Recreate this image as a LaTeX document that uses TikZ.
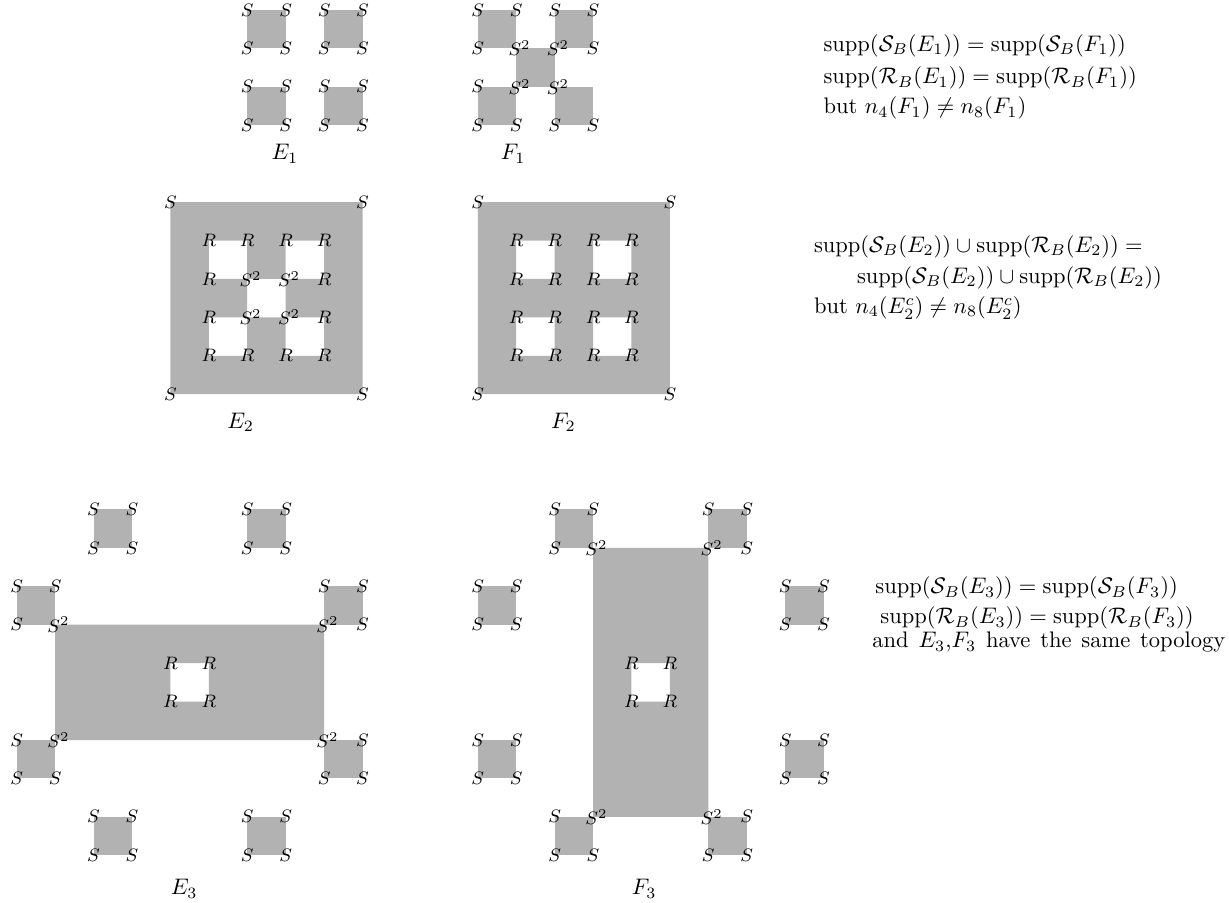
\documentclass[tikz,border=0pt]{standalone}
\usepackage{amsmath}
\begin{document}
\begin{tikzpicture}[x=0.6cm,y=-0.6cm,
  region/.style={fill=black!30},
  lab/.style={font=\footnotesize, inner sep=0pt},
  labsq/.style={lab, xshift=1.5pt},
  figcap/.style={anchor=base},
  txt/.style={anchor=base west, inner sep=0pt}]
\useasboundingbox (-0.435,-0.26) rectangle (31.553,23.217);

% ---------------- E1 ----------------
\foreach \x/\y in {6/0,8/0,6/2,8/2} \fill[region] (\x,\y) rectangle ++(1,1);
\foreach \x in {6,7,8,9} \foreach \y in {0,1,2,3} \node[lab] (ea-\x-\y) at (\x,\y) {$S$};
\node[figcap] (E1) at (6.98,3.9) {$E_1$};

% ---------------- F1 ----------------
\foreach \x/\y in {12/0,14/0,13/1,12/2,14/2} \fill[region] (\x,\y) rectangle ++(1,1);
\foreach \x/\y in {12/0,13/0,14/0,15/0,12/1,15/1,12/2,12/3,13/3,14/3,15/3}
  \node[lab] (fa-\x-\y) at (\x,\y) {$S$};
\foreach \x/\y in {13/1,14/1,13/2,14/2}
  \node[labsq] (fb-\x-\y) at (\x,\y) {$S^2$};
\node[figcap] (F1) at (12.92,3.9) {$F_1$};

% ---------------- E2 ----------------
\fill[region,even odd rule] (4,5) rectangle (9,10)
  (5,6) rectangle ++(1,1) (7,6) rectangle ++(1,1) (6,7) rectangle ++(1,1)
  (5,8) rectangle ++(1,1) (7,8) rectangle ++(1,1);
\foreach \x/\y in {4/5,9/5,4/10,9/10} \node[lab] (ec-\x-\y) at (\x,\y) {$S$};
\foreach \x/\y in {5/6,6/6,7/6,8/6,5/7,8/7,5/8,8/8,5/9,6/9,7/9,8/9}
  \node[lab] (ed-\x-\y) at (\x,\y) {$R$};
\foreach \x/\y in {6/7,7/7,6/8,7/8}
  \node[labsq] (ee-\x-\y) at (\x,\y) {$S^2$};
\node[figcap] (E2) at (5.83,10.88) {$E_2$};

% ---------------- F2 ----------------
\fill[region,even odd rule] (12,5) rectangle (17,10)
  (13,6) rectangle ++(1,1) (15,6) rectangle ++(1,1)
  (13,8) rectangle ++(1,1) (15,8) rectangle ++(1,1);
\foreach \x/\y in {12/5,17/5,12/10,17/10} \node[lab] (fc-\x-\y) at (\x,\y) {$S$};
\foreach \x in {13,14,15,16} \foreach \y in {6,7,8,9}
  \node[lab] (fd-\x-\y) at (\x,\y) {$R$};
\node[figcap] (F2) at (14.23,10.88) {$F_2$};

% ---------------- E3 ----------------
\foreach \x/\y in {2/13,6/13,0/15,8/15,0/19,8/19,2/21,6/21} \fill[region] (\x,\y) rectangle ++(1,1);
\fill[region,even odd rule] (1,16) rectangle (8,19) (4,17) rectangle (5,18);
\foreach \x/\y in {2/13,3/13,2/14,3/14, 6/13,7/13,6/14,7/14,
                   0/15,1/15,0/16, 8/15,9/15,9/16,
                   0/19,0/20,1/20, 9/19,8/20,9/20,
                   2/21,3/21,2/22,3/22, 6/21,7/21,6/22,7/22}
  \node[lab] (eg-\x-\y) at (\x,\y) {$S$};
\foreach \x/\y in {1/16,8/16,1/19,8/19}
  \node[labsq] (eh-\x-\y) at (\x,\y) {$S^2$};
\foreach \x/\y in {4/17,5/17,4/18,5/18}
  \node[lab] (ei-\x-\y) at (\x,\y) {$R$};
\node[figcap] (E3) at (4.36,23.03) {$E_3$};

% ---------------- F3 ----------------
\foreach \x/\y in {14/13,18/13,12/15,20/15,12/19,20/19,14/21,18/21} \fill[region] (\x,\y) rectangle ++(1,1);
\fill[region,even odd rule] (15,14) rectangle (18,21) (16,17) rectangle (17,18);
\foreach \x/\y in {14/13,15/13,14/14, 18/13,19/13,19/14,
                   12/15,13/15,12/16,13/16, 20/15,21/15,20/16,21/16,
                   12/19,13/19,12/20,13/20, 20/19,21/19,20/20,21/20,
                   14/21,14/22,15/22, 19/21,18/22,19/22}
  \node[lab] (fg-\x-\y) at (\x,\y) {$S$};
\foreach \x/\y in {15/14,18/14,15/21,18/21}
  \node[labsq] (fh-\x-\y) at (\x,\y) {$S^2$};
\foreach \x/\y in {16/17,17/17,16/18,17/18}
  \node[lab] (fi-\x-\y) at (\x,\y) {$R$};
\node[figcap] (F3) at (16.33,23.03) {$F_3$};

% ---------------- texts ----------------
\node[txt] (t11) at (20.99,1.08) {$\operatorname{supp}(\mathcal{S}_B(E_1)) = \operatorname{supp}(\mathcal{S}_B(F_1))$};
\node[txt] (t12) at (20.99,1.92) {$\operatorname{supp}(\mathcal{R}_B(E_1)) = \operatorname{supp}(\mathcal{R}_B(F_1))$};
\node[txt] (t13) at (20.99,2.70) {but $n_4(F_1) \neq n_8(F_1)$};

\node[txt] (t21) at (20.74,6.31) {$\operatorname{supp}(\mathcal{S}_B(E_2)) \cup \operatorname{supp}(\mathcal{R}_B(E_2)) =$};
\node[txt] (t22) at (21.86,7.12) {$\operatorname{supp}(\mathcal{S}_B(E_2)) \cup \operatorname{supp}(\mathcal{R}_B(E_2))$};
\node[txt] (t23) at (20.74,7.90) {but $n_4(E_2^c) \neq n_8(E_2^c)$};

\node[txt] (t31) at (22.34,15.20) {$\operatorname{supp}(\mathcal{S}_B(E_3)) = \operatorname{supp}(\mathcal{S}_B(F_3))$};
\node[txt] (t32) at (22.47,15.98) {$\operatorname{supp}(\mathcal{R}_B(E_3)) = \operatorname{supp}(\mathcal{R}_B(F_3))$};
\node[txt] (t33) at (22.26,16.60) {\spaceskip=4.4pt and $E_3$,$F_3$ have the same topology};
\end{tikzpicture}
\end{document}
